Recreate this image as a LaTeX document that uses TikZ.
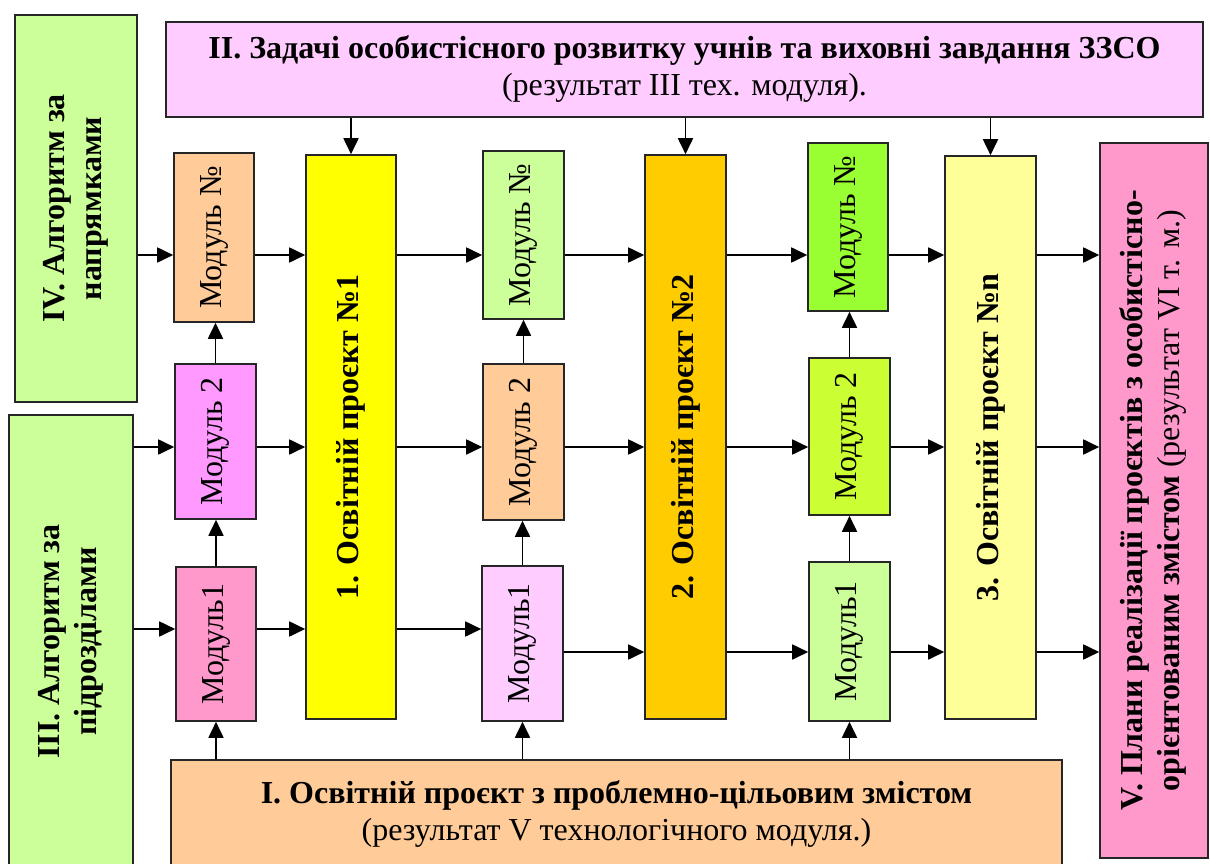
\documentclass[tikz,border=0pt]{standalone}
\usepackage{fontspec}
\setmainfont{Liberation Serif}
\usepackage{graphicx}
\usetikzlibrary{arrows.meta}

\definecolor{salat}{HTML}{CCFF99}
\definecolor{buzok}{HTML}{FFCCFF}
\definecolor{persyk}{HTML}{FFCC99}
\definecolor{fuksia}{HTML}{FF99FF}
\definecolor{rozhevyi}{HTML}{FF99CC}
\definecolor{zhovtyi}{HTML}{FFFF00}
\definecolor{pomaranch}{HTML}{FFCC00}
\definecolor{zelenyi}{HTML}{99FF33}
\definecolor{laim}{HTML}{CCFF33}
\definecolor{blidozhovtyi}{HTML}{FFFF99}

\tikzset{
  blok/.style={draw=black!85, line width=1.6pt, inner sep=0pt, align=center},
  strilka/.style={line width=1.8pt, -{Triangle[length=16pt,width=15pt]}},
}

\begin{document}
\begin{tikzpicture}[x=1pt,y=-1pt,font=\fontsize{32}{37}\selectfont]
            \useasboundingbox (0,0) rectangle (1210,864);

            % Рядки стрілок
            \coordinate (r1) at (0,255);
            \coordinate (r2) at (0,447);
            \coordinate (r3) at (0,629);
            \coordinate (r4) at (0,652);

            % Зовнішні блоки
            \node[blok, fill=salat, minimum width=122pt, minimum height=387pt] (alg4) at (76,208.5)
                {\rotatebox{90}{\bfseries\begin{tabular}{c}IV. Алгоритм за\\ напрямками\end{tabular}}};
            \node[blok, fill=salat, minimum width=124pt, minimum height=453pt] (alg3) at (71,641.5)
                {\rotatebox{90}{\bfseries\begin{tabular}{c}III. Алгоритм за\\ підрозділами\end{tabular}}};
            \node[blok, fill=buzok, minimum width=1037pt, minimum height=95pt] (zad) at (684.5,69.5)
                {\textbf{II. Задачі особистісного розвитку учнів та виховні завдання ЗЗСО}\\ (результат III тех. модуля).};
            \node[blok, fill=persyk, minimum width=891pt, minimum height=108pt] (osv) at (616.5,814)
                {\textbf{I. Освітній проєкт з проблемно-цільовим змістом}\\ (результат V технологічного модуля.)};
            \node[blok, fill=rozhevyi, minimum width=108pt, minimum height=715pt] (plan) at (1154,500.5)
                {\rotatebox{90}{\begin{tabular}{c}\textbf{V. Плани реалізації проєктів з особистісно-}\\ \textbf{орієнтованим змістом} (результат VI т. м.)\end{tabular}}};

            % Перший стовпчик
            \node[blok, fill=persyk, minimum width=80pt, minimum height=169pt] (m1n) at (214,237.5) {\rotatebox{90}{Модуль №}};
            \node[blok, fill=fuksia, minimum width=81pt, minimum height=155pt] (m12) at (215.5,441.5) {\rotatebox{90}{Модуль 2}};
            \node[blok, fill=rozhevyi, minimum width=80pt, minimum height=154pt] (m11) at (216,644) {\rotatebox{90}{Модуль1}};
            \node[blok, fill=zhovtyi, minimum width=90pt, minimum height=564pt] (p1) at (351,437) {\rotatebox{90}{\bfseries 1. Освітній проєкт №1}};

            % Другий стовпчик
            \node[blok, fill=salat, minimum width=81pt, minimum height=168pt] (m2n) at (523.5,235) {\rotatebox{90}{Модуль №}};
            \node[blok, fill=persyk, minimum width=81pt, minimum height=156pt] (m22) at (523.5,442) {\rotatebox{90}{Модуль 2}};
            \node[blok, fill=buzok, minimum width=81pt, minimum height=155pt] (m21) at (522.5,643.5) {\rotatebox{90}{Модуль1}};
            \node[blok, fill=pomaranch, minimum width=81pt, minimum height=564pt] (p2) at (685.5,437) {\rotatebox{90}{\bfseries 2. Освітній проєкт №2}};

            % Третій стовпчик
            \node[blok, fill=zelenyi, minimum width=80pt, minimum height=168pt] (m3n) at (848,227) {\rotatebox{90}{Модуль №}};
            \node[blok, fill=laim, minimum width=81pt, minimum height=157pt] (m32) at (849.5,436.5) {\rotatebox{90}{Модуль 2}};
            \node[blok, fill=salat, minimum width=81pt, minimum height=159pt] (m31) at (849.5,641.5) {\rotatebox{90}{Модуль1}};
            \node[blok, fill=blidozhovtyi, minimum width=91pt, minimum height=563pt] (p3) at (990.5,437.5) {\rotatebox{90}{\bfseries 3. Освітній проєкт №n}};

            % Стрілки згори
            \draw[strilka] (zad.south -| p1) -- (p1.north);
            \draw[strilka] (zad.south -| p2) -- (p2.north);
            \draw[strilka] (zad.south -| p3) -- (p3.north);

            % Стрілки знизу
            \draw[strilka] (osv.north -| m11) -- (m11.south);
            \draw[strilka] (osv.north -| m21) -- (m21.south);
            \draw[strilka] (osv.north -| m31) -- (m31.south);

            % Стрілки між модулями
            \draw[strilka] (m11.north) -- (m11.north |- m12.south);
            \draw[strilka] (m12.north) -- (m12.north |- m1n.south);
            \draw[strilka] (m21.north) -- (m21.north |- m22.south);
            \draw[strilka] (m22.north) -- (m22.north |- m2n.south);
            \draw[strilka] (m31.north) -- (m31.north |- m32.south);
            \draw[strilka] (m32.north) -- (m32.north |- m3n.south);

            % Верхній рядок
            \draw[strilka] (alg4.east |- r1) -- (m1n.west |- r1);
            \draw[strilka] (m1n.east |- r1) -- (p1.west |- r1);
            \draw[strilka] (p1.east |- r1) -- (m2n.west |- r1);
            \draw[strilka] (m2n.east |- r1) -- (p2.west |- r1);
            \draw[strilka] (p2.east |- r1) -- (m3n.west |- r1);
            \draw[strilka] (m3n.east |- r1) -- (p3.west |- r1);
            \draw[strilka] (p3.east |- r1) -- (plan.west |- r1);

            % Середній рядок
            \draw[strilka] (alg3.east |- r2) -- (m12.west |- r2);
            \draw[strilka] (m12.east |- r2) -- (p1.west |- r2);
            \draw[strilka] (p1.east |- r2) -- (m22.west |- r2);
            \draw[strilka] (m22.east |- r2) -- (p2.west |- r2);
            \draw[strilka] (p2.east |- r2) -- (m32.west |- r2);
            \draw[strilka] (m32.east |- r2) -- (p3.west |- r2);
            \draw[strilka] (p3.east |- r2) -- (plan.west |- r2);

            % Нижній рядок
            \draw[strilka] (alg3.east |- r3) -- (m11.west |- r3);
            \draw[strilka] (m11.east |- r3) -- (p1.west |- r3);
            \draw[strilka] (p1.east |- r3) -- (m21.west |- r3);
            \draw[strilka] (m21.east |- r4) -- (p2.west |- r4);
            \draw[strilka] (p2.east |- r4) -- (m31.west |- r4);
            \draw[strilka] (m31.east |- r4) -- (p3.west |- r4);
            \draw[strilka] (p3.east |- r4) -- (plan.west |- r4);
        \end{tikzpicture}
\end{document}
